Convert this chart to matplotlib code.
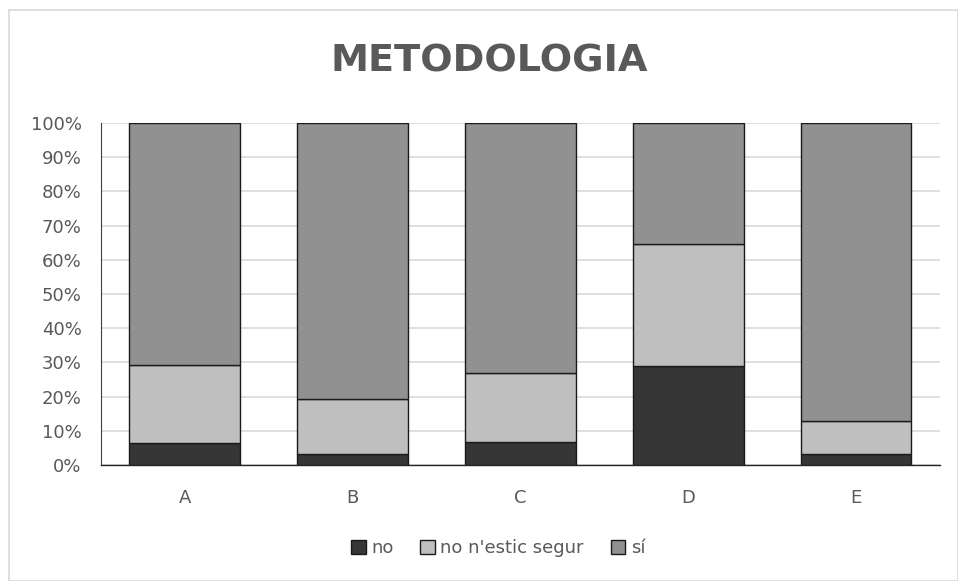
import numpy as np
import matplotlib
matplotlib.use("Agg")
import matplotlib.pyplot as plt
from matplotlib.patches import Rectangle
from matplotlib.ticker import PercentFormatter

plt.rcParams['font.family'] = ['DejaVu Sans']

categories = ["A", "B", "C", "D", "E"]
no = [6.5, 3.2, 6.7, 29.0, 3.2]
unsure = [22.6, 16.2, 20.1, 35.5, 9.8]
yes = [100 - a - b for a, b in zip(no, unsure)]

series = [("no", no, "#363636"),
          ("no n'estic segur", unsure, "#bfbfbf"),
          ("sí", yes, "#919191")]

fig = plt.figure(figsize=(9.58, 5.81), dpi=100)
ax = fig.add_axes([0.1054, 0.1997, 0.8758, 0.5886])

# frame around the whole chart
fig.patches.append(Rectangle((0.009, 0.0), 0.991, 0.983, transform=fig.transFigure,
                             fill=False, edgecolor="#d9d9d9", linewidth=1.2))

x = np.arange(len(categories))
bottom = np.zeros(len(categories))
for label, vals, color in series:
    ax.bar(x, vals, width=0.66, bottom=bottom, color=color, edgecolor="#1a1a1a",
           linewidth=1.0, label=label, zorder=3)
    bottom += np.array(vals)

ax.set_xlim(-0.5, len(categories) - 0.5)
ax.set_ylim(0, 100)
ax.set_yticks(np.arange(0, 101, 10))
ax.yaxis.set_major_formatter(PercentFormatter(decimals=0))
ax.set_xticks(x)
ax.set_xticklabels(categories)
ax.grid(axis="y", color="#d9d9d9", linewidth=1.2, zorder=0)
ax.tick_params(axis="both", length=0, colors="#595959", labelsize=13)
ax.tick_params(axis="y", pad=14)
ax.tick_params(axis="x", pad=17)

for side in ["top", "right"]:
    ax.spines[side].set_visible(False)
ax.spines["bottom"].set_color("#262626")
ax.spines["bottom"].set_linewidth(1.0)
ax.spines["left"].set_color("#404040")
ax.spines["left"].set_linewidth(0.8)

fig.text(0.511, 0.894, "METODOLOGIA", ha="center", va="center",
         fontsize=27.5, fontweight="bold", color="#595959")

fig.legend(loc="center", bbox_to_anchor=(0.52, 0.057), ncol=3, frameon=False,
           fontsize=13, handlelength=0.8, handleheight=0.8, handletextpad=0.3,
           columnspacing=1.5, labelcolor="#595959")

fig.savefig("out.png", dpi=100, facecolor="white")
